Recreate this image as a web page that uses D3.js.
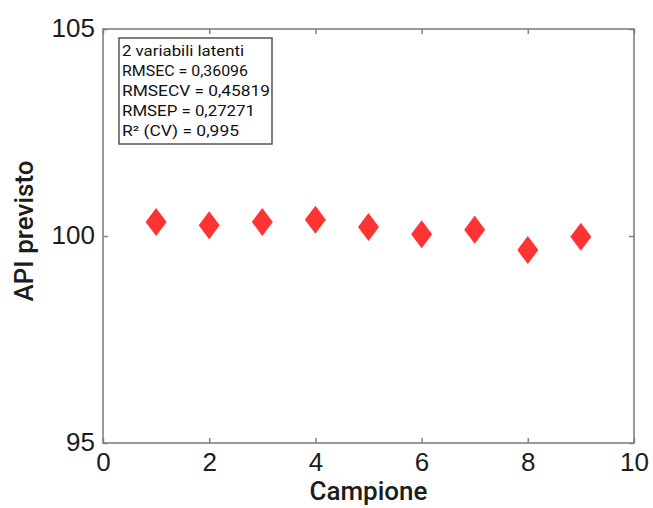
<!DOCTYPE html>
<html><head><meta charset="utf-8">
<script src="https://cdn.jsdelivr.net/npm/d3@7"></script>
<style>body{margin:0;background:#fff}svg{display:block}</style>
</head><body>
<script>
const samples = [1,2,3,4,5,6,7,8,9];
const predicted = [100.34,100.26,100.34,100.39,100.22,100.04,100.15,99.66,99.98];
const xTicks = [0,2,4,6,8,10];
const yTicks = [95,100,105];
const legendLines = ["2 variabili latenti","RMSEC = 0,36096","RMSECV = 0,45819","RMSEP = 0,27271","R² (CV) = 0,995"];

const W=653,H=508;
const m={l:103,r:19,t:29,b:65};
const svg=d3.select("body").append("svg").attr("width",W).attr("height",H);
const x=d3.scaleLinear().domain([0,10]).range([m.l,W-m.r]);
const y=d3.scaleLinear().domain([95,105]).range([H-m.b,m.t]);
const axisColor="#808080";
const tickFont="'Liberation Sans', Arial, sans-serif";
const titleFont="Roboto, 'Liberation Sans', sans-serif";

// frame
svg.append("rect").attr("x",x(0)).attr("y",y(105)).attr("width",x(10)-x(0)).attr("height",y(95)-y(105))
  .attr("fill","none").attr("stroke",axisColor).attr("stroke-width",1.6);

// axes
const gBottom=svg.append("g").attr("transform",`translate(0,${y(95)})`)
  .call(d3.axisBottom(x).tickValues(xTicks).tickSizeInner(-5).tickSizeOuter(0).tickPadding(10));
const gTop=svg.append("g").attr("transform",`translate(0,${y(105)})`)
  .call(d3.axisTop(x).tickValues(xTicks).tickSizeInner(-5).tickSizeOuter(0).tickFormat(""));
const gLeft=svg.append("g").attr("transform",`translate(${x(0)},0)`)
  .call(d3.axisLeft(y).tickValues(yTicks).tickSizeInner(-5).tickSizeOuter(0).tickPadding(8));
const gRight=svg.append("g").attr("transform",`translate(${x(10)},0)`)
  .call(d3.axisRight(y).tickValues(yTicks).tickSizeInner(-5).tickSizeOuter(0).tickFormat(""));
[gBottom,gTop,gLeft,gRight].forEach(g=>{
  g.select(".domain").remove();
  g.selectAll(".tick line").attr("stroke",axisColor).attr("stroke-width",1.5);
  g.selectAll("text").attr("fill","#1c1c1c").style("font-family",tickFont).style("font-size","26px");
});
gBottom.selectAll("text").attr("dy","0.71em");
gLeft.selectAll("text").attr("dy","0.3em");

// points (diamonds)
svg.append("g").selectAll("path").data(samples).join("path")
  .attr("d",d=>{const cx=x(d),cy=y(predicted[d-1]);return `M${cx},${cy-14}L${cx+10.5},${cy}L${cx},${cy+14}L${cx-10.5},${cy}Z`;})
  .attr("fill","#ff3333");

// axis titles
svg.append("text").attr("x",(x(0)+x(10))/2).attr("y",500).attr("text-anchor","middle")
  .style("font-family",titleFont).style("font-size","26px").style("font-weight","500").attr("fill","#1c1c1c").text("Campione");
svg.append("text").attr("transform",`translate(33,231) rotate(-90)`).attr("text-anchor","middle")
  .style("font-family",titleFont).style("font-size","26px").style("font-weight","500").attr("fill","#1c1c1c").text("API previsto");

// legend
const lg=svg.append("g");
lg.append("rect").attr("x",119).attr("y",38).attr("width",153).attr("height",106)
  .attr("fill","#fff").attr("stroke","#555").attr("stroke-width",1.5);
lg.selectAll("text").data(legendLines).join("text")
  .attr("x",122).attr("y",(d,i)=>56+i*20)
  .style("font-family","Roboto, sans-serif").style("font-size","14px").attr("fill","#111")
  .attr("textLength",(d,i)=>[122,126,148,133,117][i]).attr("lengthAdjust","spacingAndGlyphs")
  .text(d=>d);
</script>
</body></html>
